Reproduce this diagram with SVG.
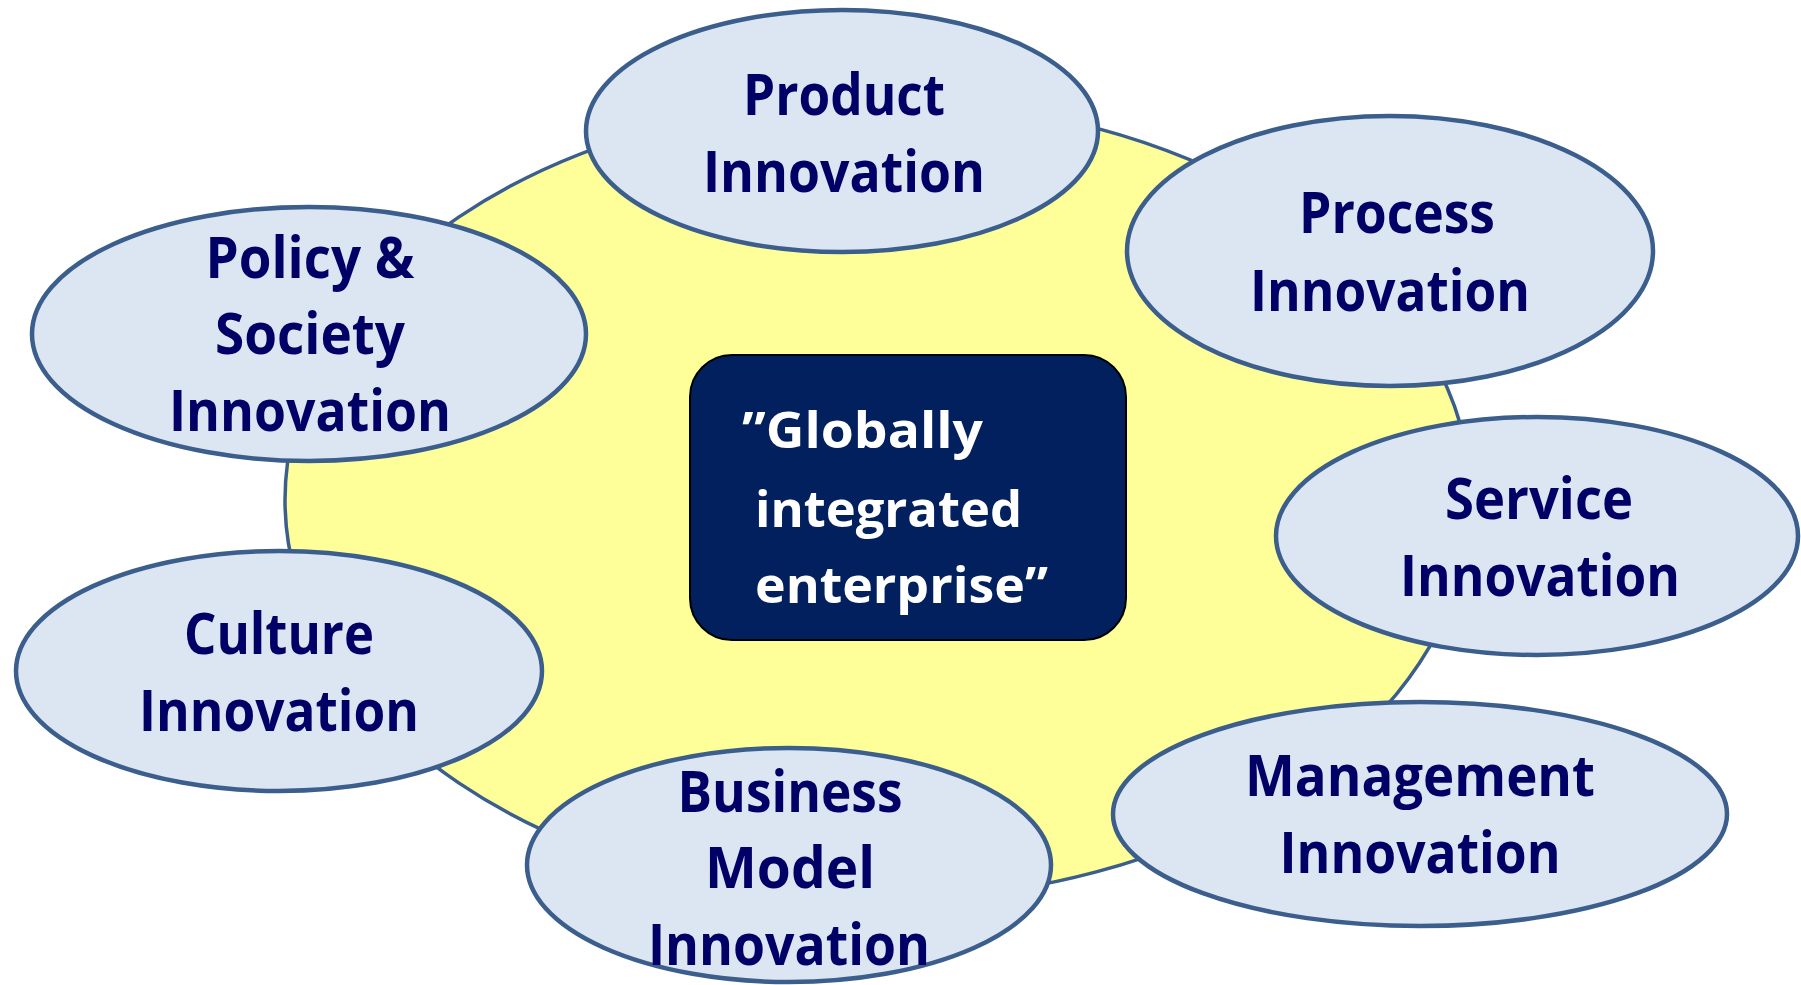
<svg xmlns="http://www.w3.org/2000/svg" width="1801" height="985" viewBox="0 0 1801 985">
<style>
.node{fill:#DCE6F2;stroke:#3B5E8C;stroke-width:4.5}
.lbl{font-family:"Open Sans","Noto Sans","Liberation Sans",sans-serif;font-weight:bold;font-size:57px;fill:#000066;text-anchor:middle}
.ctr{font-family:"Open Sans","Noto Sans","Liberation Sans",sans-serif;font-weight:bold;font-size:51px;fill:#FFFFFF}
</style>
<rect width="1801" height="985" fill="#FFFFFF"/>
<g id="background">
<ellipse cx="878" cy="500" rx="593" ry="400" fill="#FFFF99" stroke="#3B5E8C" stroke-width="3.5"/>
</g>
<g id="connectors"></g>
<g id="center">
<rect x="690" y="355" width="436" height="285" rx="42" ry="42" fill="#02205E" stroke="#000000" stroke-width="2"/>
<text class="ctr" x="742" y="448" textLength="241" lengthAdjust="spacingAndGlyphs">”Globally</text>
<text class="ctr" x="755" y="527" textLength="267" lengthAdjust="spacingAndGlyphs">integrated</text>
<text class="ctr" x="755" y="603" textLength="293" lengthAdjust="spacingAndGlyphs">enterprise”</text>
</g>
<g id="product">
<ellipse class="node" cx="842" cy="131" rx="256" ry="121"/>
<text class="lbl" x="844" y="115" textLength="202" lengthAdjust="spacingAndGlyphs">Product</text>
<text class="lbl" x="844" y="192" textLength="282" lengthAdjust="spacingAndGlyphs">Innovation</text>
</g>
<g id="process">
<ellipse class="node" cx="1390" cy="251" rx="263" ry="135"/>
<text class="lbl" x="1397" y="233" textLength="196" lengthAdjust="spacingAndGlyphs">Process</text>
<text class="lbl" x="1390" y="311" textLength="280" lengthAdjust="spacingAndGlyphs">Innovation</text>
</g>
<g id="service">
<ellipse class="node" cx="1537" cy="536" rx="261" ry="119"/>
<text class="lbl" x="1539" y="519" textLength="188" lengthAdjust="spacingAndGlyphs">Service</text>
<text class="lbl" x="1540" y="596" textLength="280" lengthAdjust="spacingAndGlyphs">Innovation</text>
</g>
<g id="management">
<ellipse class="node" cx="1420" cy="814" rx="307" ry="112"/>
<text class="lbl" x="1420" y="796" textLength="350" lengthAdjust="spacingAndGlyphs">Management</text>
<text class="lbl" x="1420" y="873" textLength="281" lengthAdjust="spacingAndGlyphs">Innovation</text>
</g>
<g id="business-model">
<ellipse class="node" cx="789" cy="865" rx="262" ry="117"/>
<text class="lbl" x="790" y="812" textLength="225" lengthAdjust="spacingAndGlyphs">Business</text>
<text class="lbl" x="790" y="888" textLength="170" lengthAdjust="spacingAndGlyphs">Model</text>
<text class="lbl" x="789" y="965" textLength="282" lengthAdjust="spacingAndGlyphs">Innovation</text>
</g>
<g id="culture">
<ellipse class="node" cx="279" cy="671" rx="263" ry="120"/>
<text class="lbl" x="279" y="654" textLength="190" lengthAdjust="spacingAndGlyphs">Culture</text>
<text class="lbl" x="279" y="731" textLength="280" lengthAdjust="spacingAndGlyphs">Innovation</text>
</g>
<g id="policy">
<ellipse class="node" cx="309" cy="334" rx="277" ry="127"/>
<text class="lbl" x="310" y="278" textLength="209" lengthAdjust="spacingAndGlyphs">Policy &amp;</text>
<text class="lbl" x="310" y="354" textLength="190" lengthAdjust="spacingAndGlyphs">Society</text>
<text class="lbl" x="310" y="431" textLength="282" lengthAdjust="spacingAndGlyphs">Innovation</text>
</g>
</svg>
